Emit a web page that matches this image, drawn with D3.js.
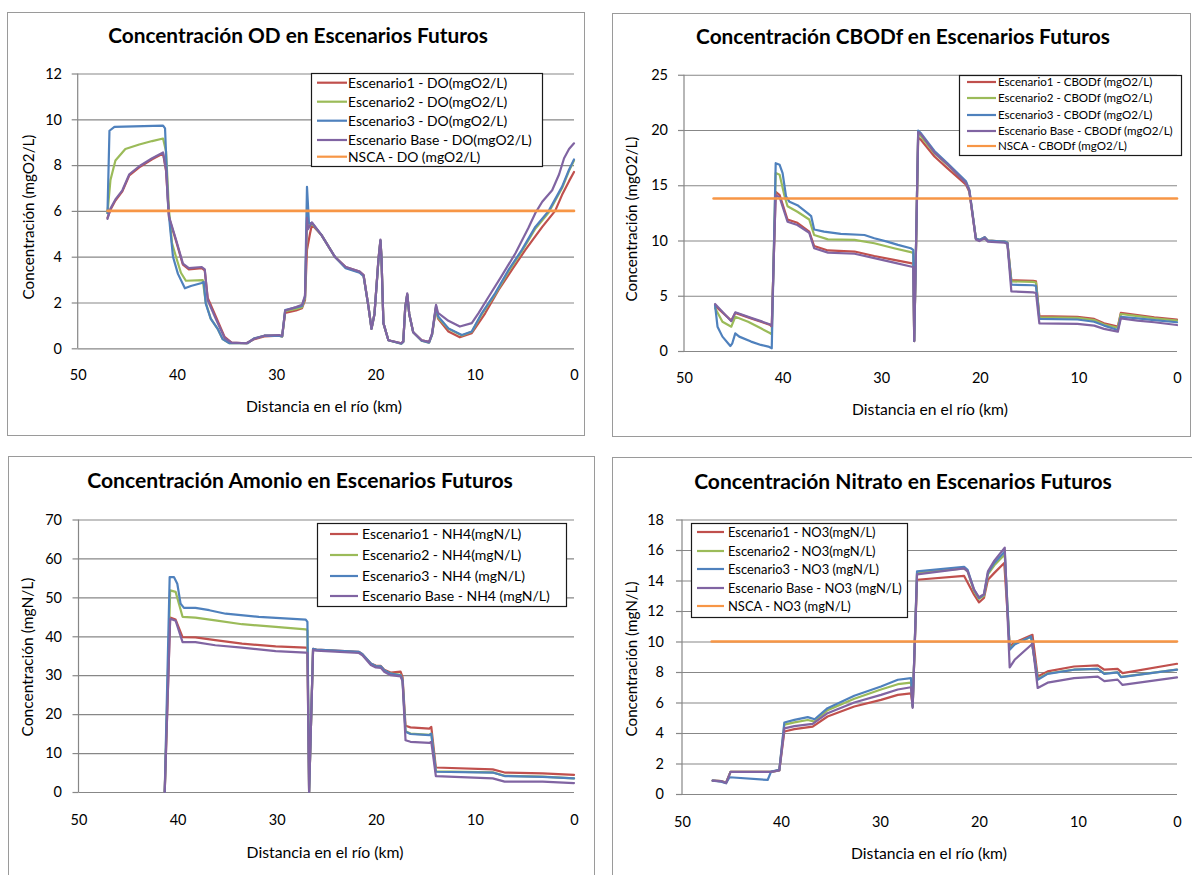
<!DOCTYPE html>
<html><head><meta charset="utf-8">
<script src="https://cdn.jsdelivr.net/npm/d3@7"></script>
<style>body{margin:0;background:#fff} svg{display:block} text{font-family:Lato, "Open Sans", sans-serif;fill:#000}</style>
</head><body><svg id="c" width="1192" height="875"></svg>
<script>
// ---------- data ----------
const xTicks = [50,40,30,20,10,0];
const odTicks = [0,2,4,6,8,10,12];
const cbTicks = [0,5,10,15,20,25];
const nhTicks = [0,10,20,30,40,50,60,70];
const noTicks = [0,2,4,6,8,10,12,14,16,18];

const odLabels = ["Escenario1 - DO(mgO2/L)","Escenario2 - DO(mgO2/L)","Escenario3 - DO(mgO2/L)","Escenario Base - DO(mgO2/L)","NSCA - DO (mgO2/L)"];
const cbLabels = ["Escenario1 - CBODf (mgO2/L)","Escenario2 - CBODf (mgO2/L)","Escenario3 - CBODf (mgO2/L)","Escenario Base - CBODf (mgO2/L)","NSCA - CBODf (mgO2/L)"];
const nhLabels = ["Escenario1 - NH4(mgN/L)","Escenario2 - NH4(mgN/L)","Escenario3 - NH4  (mgN/L)","Escenario Base - NH4  (mgN/L)"];
const noLabels = ["Escenario1 - NO3(mgN/L)","Escenario2 - NO3(mgN/L)","Escenario3 - NO3 (mgN/L)","Escenario Base - NO3 (mgN/L)","NSCA - NO3 (mgN/L)"];

// OD  [km, mgO2/L]
const odE1 = [[47,5.7],[46.7,6.05],[46.2,6.45],[45.5,6.85],[44.8,7.55],[43.8,7.9],[42.5,8.25],[41.4,8.5],[41.1,7.75],[40.8,5.7],[40.1,4.7],[39.4,3.65],[38.8,3.45],[37.5,3.5],[37.2,3.4],[36.9,2.2],[36.1,1.4],[35.2,0.5],[34.5,0.25],[33,0.22],[32.2,0.4],[31.2,0.52],[29.7,0.55],[29.4,0.52],[29.1,1.55],[28,1.65],[27.4,1.75],[27.1,2.1],[26.9,4.3],[26.6,5.0],[26.4,5.4],[25.45,4.95],[24.1,4.0],[23,3.55],[21.6,3.35],[21.2,3.2],[20.7,1.8],[20.4,0.85],[20.1,1.5],[19.7,3.9],[19.5,4.7],[19.4,4.0],[19.2,1.1],[18.7,0.35],[17.4,0.22],[17.2,0.3],[17,1.8],[16.8,2.35],[16.6,1.5],[16.2,0.7],[15.35,0.35],[14.6,0.28],[14.3,0.6],[13.9,1.75],[13.7,1.3],[12.65,0.73],[11.5,0.48],[10.3,0.66],[8.95,1.53],[7.6,2.55],[6.26,3.42],[4.9,4.3],[3.2,5.3],[1.9,6.0],[1.2,6.7],[0.5,7.3],[0,7.7]];
const odE2 = [[47,5.9],[46.7,7.35],[46.2,8.2],[45.2,8.7],[43.8,8.9],[42.5,9.05],[41.4,9.16],[41.1,8.6],[40.8,6.0],[40.5,4.6],[40.1,4.0],[39.6,3.3],[39.1,2.95],[37.4,2.98],[37.1,2.0],[36.6,1.3],[35.9,0.85],[35.4,0.4],[34.7,0.22],[32.9,0.22],[32.2,0.43],[31.2,0.55],[29.7,0.55],[29.4,0.52],[29.1,1.62],[28,1.72],[27.4,1.8],[27.1,2.2],[26.9,5.6],[26.7,5.3],[26.4,5.45],[25.45,4.95],[24.1,4.0],[23,3.52],[21.6,3.32],[21.2,3.17],[20.7,1.8],[20.4,0.85],[20.1,1.5],[19.7,3.85],[19.5,4.7],[19.4,4.0],[19.2,1.1],[18.7,0.35],[17.4,0.2],[17.2,0.28],[17,1.8],[16.8,2.35],[16.6,1.5],[16.2,0.7],[15.35,0.33],[14.6,0.25],[14.3,0.6],[13.9,1.8],[13.7,1.35],[12.65,0.85],[11.3,0.56],[10.3,0.72],[9.3,1.48],[7.95,2.35],[6.6,3.36],[5.25,4.24],[3.9,5.22],[2.55,5.93],[1.2,7.0],[0.5,7.75],[0,8.2]];
const odE3 = [[47,5.9],[46.8,9.5],[46.3,9.67],[41.4,9.72],[41.2,9.6],[40.9,6.3],[40.7,5.3],[40.4,4.0],[39.9,3.25],[39.2,2.62],[38.6,2.72],[37.5,2.85],[37.3,2.9],[37.1,1.95],[36.6,1.3],[35.9,0.85],[35.4,0.4],[34.7,0.22],[32.9,0.22],[32.2,0.44],[31.2,0.55],[29.7,0.54],[29.4,0.52],[29.1,1.67],[28,1.79],[27.4,1.85],[27.1,2.25],[26.9,7.05],[26.7,5.45],[26.4,5.48],[25.45,4.95],[24.1,4.0],[23,3.5],[21.6,3.3],[21.2,3.15],[20.7,1.8],[20.4,0.85],[20.1,1.5],[19.7,3.85],[19.5,4.7],[19.4,4.0],[19.2,1.1],[18.7,0.35],[17.4,0.2],[17.2,0.28],[17,1.8],[16.8,2.35],[16.6,1.5],[16.2,0.7],[15.35,0.33],[14.6,0.25],[14.3,0.6],[13.9,1.85],[13.7,1.4],[12.65,0.87],[11.3,0.58],[10.3,0.73],[9.3,1.53],[7.95,2.4],[6.6,3.42],[5.25,4.3],[3.9,5.3],[2.55,6.0],[1.2,7.06],[0.5,7.8],[0,8.25]];
const odBase = [[47,5.65],[46.7,6.1],[46.2,6.5],[45.5,6.9],[44.8,7.6],[43.8,7.95],[42.5,8.3],[41.4,8.55],[41.1,7.8],[40.8,5.75],[40.1,4.75],[39.4,3.7],[38.8,3.5],[37.5,3.55],[37.2,3.45],[36.9,2.1],[36.1,1.3],[35.2,0.45],[34.5,0.25],[33,0.22],[32.2,0.42],[31.2,0.55],[29.7,0.58],[29.4,0.55],[29.1,1.65],[28,1.8],[27.4,1.9],[27.1,2.3],[26.9,5.7],[26.8,5.2],[26.4,5.5],[25.45,4.95],[24.1,4.0],[23,3.55],[21.6,3.35],[21.2,3.2],[20.7,1.8],[20.4,0.85],[20.1,1.5],[19.7,3.9],[19.5,4.75],[19.4,4.0],[19.2,1.1],[18.7,0.35],[17.4,0.22],[17.2,0.3],[17,1.8],[16.8,2.4],[16.6,1.5],[16.2,0.7],[15.35,0.35],[14.6,0.28],[14.3,0.65],[13.9,1.9],[13.7,1.55],[12.65,1.2],[11.5,0.95],[10.3,1.1],[9.6,1.55],[8.6,2.25],[7.3,3.15],[5.9,4.15],[4.6,5.25],[3.9,5.9],[3.2,6.4],[2.2,6.9],[1.5,7.6],[1.0,8.3],[0.5,8.7],[0,8.95]];
const odNsca = [[47,6],[0,6]];

// CBODf  [km, mgO2/L]
const cbE1 = [[46.85,4.1],[45.2,2.75],[44.8,3.45],[43.2,2.95],[42.2,2.65],[41.25,2.35],[41.1,2.2],[40.7,14.4],[40.3,14.1],[39.5,11.9],[38.5,11.6],[37.3,10.8],[36.8,9.5],[35.4,9.1],[32.7,9.0],[30.7,8.6],[28.7,8.25],[27.0,7.95],[26.75,7.9],[26.65,0.9],[26.25,19.3],[25.96,19.1],[24.6,17.6],[23.3,16.55],[21.4,15.05],[21.06,14.4],[20.7,12.1],[20.4,10.2],[20.05,10.0],[19.5,10.3],[19.2,10.0],[17.5,9.9],[17.2,9.8],[16.8,6.4],[14.6,6.35],[14.3,6.3],[13.96,3.15],[10.1,3.1],[8.4,2.9],[7.4,2.5],[6.0,2.2],[5.7,3.45],[4.0,3.25],[2.3,3.05],[0,2.85]];
const cbE2 = [[46.85,3.9],[46.1,2.65],[45.2,2.2],[44.8,3.1],[43.5,2.65],[42.2,2.05],[41.25,1.6],[41.1,1.5],[40.7,16.1],[40.3,15.95],[39.8,14.0],[39.5,13.1],[38.5,12.6],[37.3,11.9],[36.8,10.5],[35.4,10.1],[32.7,10.05],[30.7,9.75],[28.7,9.3],[27.0,8.95],[26.75,8.85],[26.65,0.9],[26.25,19.7],[25.96,19.4],[24.6,17.9],[23.3,16.85],[21.4,15.25],[21.06,14.5],[20.7,12.2],[20.4,10.2],[20.05,10.05],[19.5,10.25],[19.2,10.0],[17.5,9.9],[17.2,9.8],[16.8,6.3],[14.6,6.25],[14.3,6.2],[13.96,3.05],[10.1,3.0],[8.4,2.8],[7.4,2.4],[6.0,2.1],[5.7,3.35],[4.0,3.15],[2.3,2.95],[0,2.75]];
const cbE3 = [[46.85,4.15],[46.6,2.2],[46.1,1.3],[45.3,0.45],[45.1,0.7],[44.8,1.6],[44.4,1.3],[43.2,0.85],[42.2,0.55],[41.45,0.4],[41.1,0.25],[40.7,17.0],[40.3,16.85],[40.0,16.1],[39.65,14.0],[39.3,13.5],[38.5,13.2],[37.5,12.5],[37.1,12.2],[36.8,11.0],[35.8,10.8],[34.1,10.6],[31.7,10.5],[30.7,10.2],[29.4,9.9],[28.3,9.6],[27.0,9.3],[26.75,9.15],[26.65,0.9],[26.25,19.95],[25.96,19.7],[24.6,18.1],[23.3,17.0],[21.4,15.35],[21.06,14.6],[20.7,12.2],[20.4,10.2],[20.05,10.05],[19.5,10.3],[19.2,10.0],[17.5,9.9],[17.2,9.8],[16.8,6.0],[14.6,5.95],[14.3,5.9],[13.96,2.9],[10.1,2.85],[8.4,2.65],[7.4,2.3],[6.0,1.9],[5.7,3.1],[4.0,2.95],[2.3,2.8],[0,2.6]];
const cbBase = [[46.85,4.26],[45.2,2.7],[44.8,3.5],[43.2,3.0],[42.2,2.7],[41.25,2.4],[41.1,2.25],[40.7,14.1],[40.3,13.9],[39.5,11.7],[38.5,11.4],[37.3,10.7],[36.8,9.3],[35.4,8.9],[32.7,8.8],[30.7,8.4],[28.7,8.0],[27.0,7.65],[26.75,7.6],[26.65,0.9],[26.25,19.8],[25.96,19.6],[24.6,17.95],[23.3,16.9],[21.4,15.2],[21.06,14.5],[20.7,12.1],[20.4,10.1],[20.05,9.95],[19.5,10.2],[19.2,9.9],[17.5,9.8],[17.2,9.7],[16.8,5.4],[14.6,5.3],[14.3,5.25],[13.96,2.5],[10.1,2.45],[8.4,2.3],[7.4,2.0],[6.0,1.75],[5.7,2.95],[4.0,2.75],[2.3,2.6],[0,2.35]];
const cbNsca = [[47,13.8],[0,13.8]];

// NH4  [km, mgN/L]
const nhE1 = [[41.3,0],[40.75,44.8],[40.2,44.3],[39.5,39.8],[38.2,39.7],[36.2,39.0],[33.5,38.1],[30.1,37.4],[27.07,37.1],[26.9,37.0],[26.73,0],[26.33,36.8],[26.0,36.6],[21.7,36.0],[21.35,35.4],[20.5,33.0],[20.0,32.5],[19.5,32.4],[19.15,31.4],[18.5,30.7],[17.5,30.9],[17.3,29.5],[17.0,17.0],[16.5,16.6],[14.6,16.3],[14.4,16.7],[13.94,6.3],[8.2,5.8],[7.0,5.0],[3.16,4.8],[0,4.4]];
const nhE2 = [[41.3,0],[40.75,51.8],[40.2,51.4],[39.5,45.0],[38.2,44.8],[36.2,44.1],[33.5,43.1],[30.1,42.4],[27.07,41.8],[26.9,41.5],[26.73,0],[26.33,36.7],[26.0,36.5],[21.7,35.9],[21.35,35.3],[20.5,32.9],[20.0,32.3],[19.5,32.2],[19.15,31.2],[18.5,30.4],[17.5,30.1],[17.3,28.8],[17.0,15.6],[16.5,15.0],[14.6,14.7],[14.4,15.0],[13.94,5.3],[8.2,5.05],[7.0,4.15],[3.16,3.95],[0,3.5]];
const nhE3 = [[41.3,0],[40.8,55.2],[40.37,55.2],[40.03,53.5],[39.7,48.4],[39.36,47.3],[38.2,47.3],[36.8,46.7],[35.15,45.8],[31.8,45.0],[27.07,44.3],[26.9,43.7],[26.73,0],[26.33,36.8],[26.0,36.6],[21.7,36.0],[21.35,35.4],[20.5,33.0],[20.0,32.3],[19.5,32.3],[19.15,31.3],[18.5,30.4],[17.5,30.0],[17.3,28.7],[17.0,15.5],[16.5,14.9],[14.6,14.6],[14.4,15.0],[13.94,5.2],[8.2,5.0],[7.0,4.1],[3.16,3.9],[0,3.5]];
const nhBase = [[41.3,0],[40.75,44.5],[40.2,44.0],[39.5,38.5],[38.2,38.5],[36.2,37.7],[33.5,37.1],[30.1,36.2],[27.07,35.8],[26.9,35.7],[26.73,0],[26.33,36.5],[26.0,36.3],[21.7,35.7],[21.35,35.1],[20.5,32.6],[20.0,32.0],[19.5,31.9],[19.15,30.9],[18.5,30.0],[17.5,29.7],[17.3,28.4],[17.0,13.3],[16.5,12.9],[14.6,12.6],[14.4,12.9],[13.94,4.1],[8.2,3.5],[7.0,2.65],[3.16,2.65],[0,2.3]];

// NO3  [km, mgN/L]
const noE1 = [[46.9,0.88],[46.06,0.85],[45.55,0.75],[45.1,1.45],[41.0,1.45],[40.17,1.55],[39.66,4.1],[38.65,4.25],[36.8,4.42],[35.3,5.08],[32.6,5.74],[29.9,6.17],[28.2,6.5],[26.87,6.6],[26.7,5.8],[26.26,14.05],[21.5,14.3],[20.5,13.07],[20.0,12.57],[19.5,12.85],[19.1,14.05],[18.45,14.5],[17.45,15.15],[16.9,9.68],[16.4,9.94],[14.6,10.44],[14.07,7.7],[13.07,8.04],[10.4,8.36],[8.0,8.43],[7.34,8.15],[6.0,8.2],[5.5,7.93],[0,8.54]];
const noE2 = [[46.9,0.88],[46.06,0.85],[45.55,0.72],[45.1,1.45],[41.0,1.45],[40.17,1.57],[39.66,4.55],[38.65,4.7],[37.3,4.85],[36.6,4.75],[35.3,5.5],[32.6,6.25],[29.9,6.85],[28.2,7.2],[26.87,7.3],[26.7,5.7],[26.26,14.5],[21.5,14.8],[21.15,14.6],[20.5,13.3],[20.0,12.8],[19.5,13.0],[19.1,14.4],[18.45,15.0],[17.4,15.7],[16.9,9.5],[16.4,9.85],[14.75,10.3],[14.07,7.55],[13.07,7.9],[10.4,8.15],[8.0,8.2],[7.34,7.9],[6.0,7.98],[5.66,7.68],[0,8.15]];
const noE3 = [[46.9,0.88],[46.06,0.81],[45.55,0.7],[45.2,1.1],[41.35,0.92],[41.0,1.47],[40.17,1.58],[39.66,4.69],[38.65,4.86],[37.3,5.04],[36.6,4.9],[35.3,5.63],[32.6,6.44],[29.9,7.05],[28.2,7.49],[26.87,7.6],[26.7,5.74],[26.26,14.6],[21.5,14.9],[21.15,14.7],[20.5,13.4],[20.0,12.85],[19.5,13.07],[19.1,14.5],[18.45,15.15],[17.4,15.9],[16.9,9.46],[16.4,9.8],[14.75,10.33],[14.07,7.49],[13.07,7.88],[10.4,8.15],[8.0,8.2],[7.34,7.88],[6.0,7.97],[5.66,7.66],[0,8.15]];
const noBase = [[46.9,0.88],[46.06,0.85],[45.55,0.72],[45.1,1.45],[41.0,1.45],[40.17,1.55],[39.66,4.3],[38.65,4.45],[36.8,4.6],[35.3,5.3],[32.6,6.0],[29.9,6.5],[28.2,6.85],[26.87,7.0],[26.7,5.65],[26.26,14.4],[21.5,14.8],[21.15,14.6],[20.5,13.4],[20.0,12.9],[19.5,13.1],[19.1,14.6],[18.45,15.3],[17.4,16.15],[16.9,8.3],[16.4,8.8],[14.6,9.85],[14.07,6.95],[13.07,7.3],[10.4,7.6],[8.0,7.7],[7.34,7.4],[6.0,7.5],[5.5,7.15],[0,7.65]];
const noNsca = [[47,10],[0,10]];

const colors = ["#C0504D","#9BBB59","#4F81BD","#8064A2","#F79646"];

// ---------- layout ----------
const panels = [
 {frame:[7,12,584,435], plot:[77.7,73.5,574,348.3], yMax:12, yTicks:odTicks,
  title:"Concentración OD en Escenarios Futuros", tCx:298, tBase:43, tW:380,
  yTitle:"Concentración (mgO2/L)", yTx:29, yTcy:217, yTlen:165,
  xTcx:324, xTbase:412, xTw:156, xLblBase:380, yLblRight:62,
  series:[odE1,odE2,odE3,odBase,odNsca], labels:odLabels,
  legend:{box:[311,73,542,166], rows:[82.7,101.7,120.7,140,156.7], line:[317,347], tx:348, tw:184}},
 {frame:[612,13,1190,436], plot:[684,74.75,1177,351], yMax:25, yTicks:cbTicks,
  title:"Concentración CBODf en Escenarios Futuros", tCx:903, tBase:44, tW:414,
  yTitle:"Concentración (mgO2/L)", yTx:632, yTcy:219, yTlen:165,
  xTcx:930, xTbase:415, xTw:156, xLblBase:383, yLblRight:668,
  series:[cbE1,cbE2,cbE3,cbBase,cbNsca], labels:cbLabels,
  legend:{box:[959,75,1181,155], rows:[82,98,115,131,146], line:[967,996], tx:998, tw:175}},
 {frame:[8,456,594,880], plot:[78.5,519.5,574,792], yMax:70, yTicks:nhTicks,
  title:"Concentración Amonio en Escenarios Futuros", tCx:300, tBase:488, tW:426,
  yTitle:"Concentración (mgN/L)", yTx:27.5, yTcy:657, yTlen:159,
  xTcx:325, xTbase:858, xTw:157, xLblBase:825, yLblRight:62,
  series:[nhE1,nhE2,nhE3,nhBase], labels:nhLabels,
  legend:{box:[317,523,566,606], rows:[534,555,576,596], line:[330,358], tx:362, tw:188}},
 {frame:[612,457,1200,880], plot:[682,519.5,1177,794], yMax:18, yTicks:noTicks,
  title:"Concentración Nitrato en Escenarios Futuros", tCx:903, tBase:489, tW:418,
  yTitle:"Concentración (mgN/L)", yTx:632, yTcy:659, yTlen:155,
  xTcx:929, xTbase:859, xTw:156, xLblBase:827, yLblRight:664,
  series:[noE1,noE2,noE3,noBase,noNsca], labels:noLabels,
  legend:{box:[691,523,907,617], rows:[532,551,569,588,606], line:[697,724], tx:728, tw:174}}
];

const svg = d3.select("#c");
function fit(t, w){
  const cur = t.node().getComputedTextLength();
  const fs = parseFloat(t.style("font-size"));
  t.style("font-size", (fs*w/cur)+"px");
  return fs*w/cur;
}
const grid = "#878787";

panels.forEach(p=>{
  const g = svg.append("g");
  const [fx0,fy0,fx1,fy1] = p.frame;
  g.append("rect").attr("x",fx0+0.5).attr("y",fy0+0.5).attr("width",fx1-fx0).attr("height",fy1-fy0)
    .attr("fill","#fff").attr("stroke","#9a9a9a").attr("stroke-width",1);
  const [L,T,R,B] = p.plot;
  const x = d3.scaleLinear().domain([50,0]).range([L,R]);
  const y = d3.scaleLinear().domain([0,p.yMax]).range([B,T]);

  // gridlines + y axis
  const ya = d3.axisLeft(y).tickValues(p.yTicks).tickSize(-(R-L)).tickFormat("");
  const yg = g.append("g").attr("transform",`translate(${L},0)`).call(ya);
  yg.select(".domain").remove();
  yg.selectAll("line").attr("stroke",grid).attr("stroke-width",1.2);
  const yt = d3.axisLeft(y).tickValues(p.yTicks).tickSize(6).tickFormat("");
  const yt2 = g.append("g").attr("transform",`translate(${L},0)`).call(yt);
  yt2.selectAll("line").attr("stroke",grid).attr("stroke-width",1.2);
  yt2.select(".domain").attr("stroke",grid).attr("stroke-width",1.2).attr("d",`M0,${B}V${T}`);
  // y labels
  g.selectAll(".yl").data(p.yTicks).enter().append("text")
    .attr("x",p.yLblRight).attr("y",d=>y(d)).attr("dy","0.36em")
    .attr("text-anchor","end").style("font-size","14.5px").text(d=>d);
  // x labels via axis
  const xa = d3.axisBottom(x).tickValues(xTicks).tickSize(0).tickFormat(d=>d);
  const xg = g.append("g").attr("transform",`translate(0,${B})`).call(xa);
  xg.select(".domain").remove();
  xg.selectAll("text").attr("y",0).attr("dy",0).attr("transform",`translate(0,${p.xLblBase-B})`)
    .style("font-size","14.5px").attr("font-family",null).attr("fill","#000");

  // series
  const line = d3.line().x(d=>x(d[0])).y(d=>y(d[1]));
  p.series.forEach((s,i)=>{
    g.append("path").datum(s).attr("d",line).attr("fill","none")
      .attr("stroke",colors[i]).attr("stroke-width", i===4?2.6:2.2)
      .attr("stroke-linejoin","round").attr("stroke-linecap","round");
  });

  // titles
  const tt = g.append("text").attr("x",p.tCx).attr("y",p.tBase).attr("text-anchor","middle")
    .style("font-size","18px").style("font-weight","bold").text(p.title);
  fit(tt,p.tW);
  const xt = g.append("text").attr("x",p.xTcx).attr("y",p.xTbase).attr("text-anchor","middle")
    .style("font-size","14px").text("Distancia en el río (km)");
  fit(xt,p.xTw);
  const ytt = g.append("text").attr("transform",`translate(${p.yTx},${p.yTcy}) rotate(-90)`)
    .attr("text-anchor","middle").attr("dy","0.36em").style("font-size","14px").text(p.yTitle);
  fit(ytt,p.yTlen);

  // legend
  const lg = p.legend;
  g.append("rect").attr("x",lg.box[0]+0.5).attr("y",lg.box[1]+0.5)
    .attr("width",lg.box[2]-lg.box[0]).attr("height",lg.box[3]-lg.box[1])
    .attr("fill","#fff").attr("stroke","#1a1a1a").attr("stroke-width",1.2);
  const longest = p.labels.reduce((a,b)=>b.length>a.length?b:a);
  const probe = g.append("text").style("font-size","12px").text(longest);
  const fs = fit(probe,lg.tw);
  probe.remove();
  p.labels.forEach((lab,i)=>{
    g.append("line").attr("x1",lg.line[0]).attr("x2",lg.line[1]).attr("y1",lg.rows[i]).attr("y2",lg.rows[i])
      .attr("stroke",colors[i]).attr("stroke-width",2.2);
    g.append("text").attr("x",lg.tx).attr("y",lg.rows[i]).attr("dy","0.36em")
      .style("font-size",fs+"px").text(lab);
  });
});
</script></body></html>
